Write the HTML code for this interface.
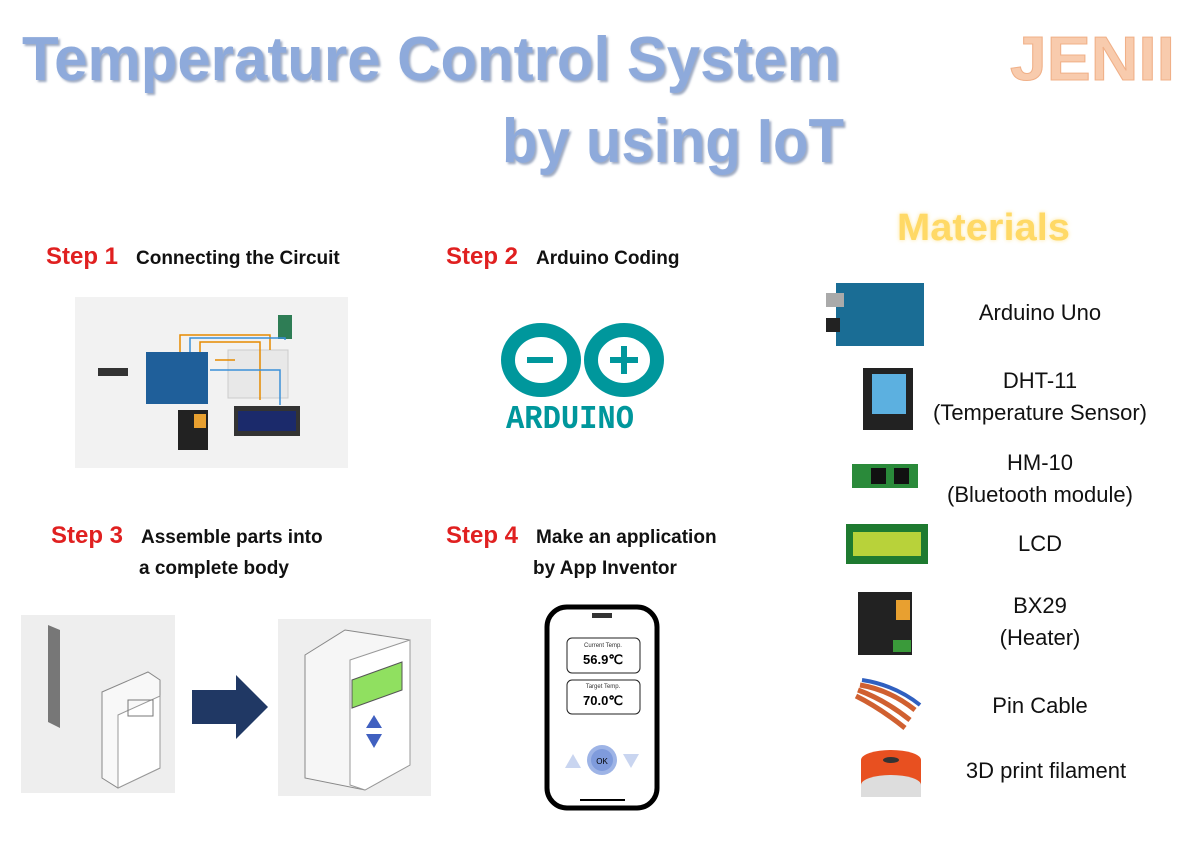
<!DOCTYPE html>
<html><head><meta charset="utf-8"><style>
html,body{margin:0;padding:0;background:#fff;}
svg{display:block;font-family:"Liberation Sans",sans-serif;}
</style></head><body>
<svg width="1200" height="847" viewBox="0 0 1200 847" xmlns="http://www.w3.org/2000/svg">
<defs>
<filter id="sh"><feDropShadow dx="2" dy="2" stdDeviation="1" flood-color="#5b6f99" flood-opacity="0.6"/></filter>
<filter id="glow"><feGaussianBlur stdDeviation="2"/></filter>
</defs>
<rect width="1200" height="847" fill="#fff"/>
<!-- Title -->
<g filter="url(#sh)" fill="#8eaadb" font-weight="bold">
<text x="22" y="80" font-size="62" textLength="818" lengthAdjust="spacingAndGlyphs">Temperature Control System</text>
<text x="502" y="162" font-size="62" textLength="342" lengthAdjust="spacingAndGlyphs">by using IoT</text>
</g>
<text x="1010" y="80" font-size="62" font-weight="bold" fill="#f8cbad" stroke="#f0b088" stroke-width="1" textLength="165" lengthAdjust="spacingAndGlyphs">JENII</text>
<!-- Materials -->
<text x="897" y="240" font-size="38" font-weight="bold" fill="#ffe699" filter="url(#glow)" textLength="173" lengthAdjust="spacingAndGlyphs">Materials</text>
<text x="897" y="240" font-size="38" font-weight="bold" fill="#ffd966" textLength="173" lengthAdjust="spacingAndGlyphs">Materials</text>

<!-- Step labels -->
<g font-weight="bold">
<text x="46" y="264" font-size="24" fill="#e02020">Step 1</text>
<text x="136" y="264" font-size="19" fill="#111">Connecting the Circuit</text>
<text x="446" y="264" font-size="24" fill="#e02020">Step 2</text>
<text x="536" y="264" font-size="19" fill="#111">Arduino Coding</text>
<text x="51" y="543" font-size="24" fill="#e02020">Step 3</text>
<text x="141" y="543" font-size="19" fill="#111">Assemble parts into</text>
<text x="139" y="574" font-size="19" fill="#111">a complete body</text>
<text x="446" y="543" font-size="24" fill="#e02020">Step 4</text>
<text x="536" y="543" font-size="19" fill="#111">Make an application</text>
<text x="533" y="574" font-size="19" fill="#111">by App Inventor</text>
</g>

<!-- Step1 circuit image -->
<rect x="75" y="297" width="273" height="171" fill="#f2f2f2"/>
<rect x="98" y="368" width="30" height="8" fill="#333"/>
<rect x="146" y="352" width="62" height="52" fill="#1f5f9a"/>
<rect x="228" y="350" width="60" height="48" fill="#e8e8e8" stroke="#ccc"/>
<rect x="278" y="315" width="14" height="24" fill="#2e7d55"/>
<rect x="234" y="406" width="66" height="30" fill="#333"/><rect x="238" y="411" width="58" height="20" fill="#1b2a6b"/>
<rect x="178" y="410" width="30" height="40" fill="#222"/><rect x="194" y="414" width="12" height="14" fill="#e8a030"/>
<path d="M180 352 V335 H270 V350 M200 352 V342 H260 V400 M215 360 H235" stroke="#e68a00" fill="none" stroke-width="1.5"/>
<path d="M190 352 V338 H285 V340 M210 370 H280 V405" stroke="#3a8fd8" fill="none" stroke-width="1.5"/>

<!-- Arduino logo -->
<g stroke="#00979c" stroke-width="14" fill="none">
<ellipse cx="541" cy="360" rx="33" ry="30"/>
<ellipse cx="624" cy="360" rx="33" ry="30"/>
</g>
<g stroke="#00979c" stroke-width="6"><line x1="527" y1="360" x2="553" y2="360"/><line x1="610" y1="360" x2="638" y2="360"/><line x1="624" y1="346" x2="624" y2="374"/></g>
<text x="506" y="428" font-size="33" font-weight="bold" fill="#00979c" textLength="128" lengthAdjust="spacingAndGlyphs" font-family="Liberation Mono,monospace">ARDUINO</text>

<!-- Step3 images -->
<rect x="21" y="615" width="154" height="178" fill="#eeeeee"/>
<polygon points="48,625 60,630 60,728 48,722" fill="#777"/>
<polygon points="102,692 148,672 160,680 160,768 118,788 102,778" fill="#f8f8f8" stroke="#888"/>
<polygon points="118,715 160,696 160,768 118,788" fill="#fff" stroke="#999"/>
<rect x="128" y="700" width="25" height="16" fill="none" stroke="#777"/>
<polygon points="192,690 236,690 236,675 268,707 236,739 236,724 192,724" fill="#203864"/>
<rect x="278" y="619" width="153" height="177" fill="#eeeeee"/>
<polygon points="305,655 345,630 410,640 410,765 365,790 305,778" fill="#f6f6f6" stroke="#888"/>
<polygon points="350,660 410,640 410,765 365,790 350,785" fill="#fff" stroke="#999"/>
<polygon points="352,680 402,662 402,690 352,708" fill="#90e060" stroke="#555"/>
<polygon points="374,715 382,728 366,728" fill="#4060c0"/><polygon points="366,734 382,734 374,748" fill="#4060c0"/>

<!-- Phone -->
<rect x="547" y="607" width="110" height="201" rx="20" fill="#fff" stroke="#000" stroke-width="5"/>
<rect x="592" y="613" width="20" height="5" fill="#333"/>
<rect x="567" y="638" width="73" height="35" rx="5" fill="#fff" stroke="#222"/>
<text x="603" y="647" font-size="6" text-anchor="middle" fill="#333">Current Temp.</text>
<text x="603" y="664" font-size="13" font-weight="bold" text-anchor="middle">56.9℃</text>
<rect x="567" y="680" width="73" height="34" rx="5" fill="#fff" stroke="#222"/>
<text x="603" y="688" font-size="6" text-anchor="middle" fill="#333">Target Temp.</text>
<text x="603" y="705" font-size="13" font-weight="bold" text-anchor="middle">70.0℃</text>
<circle cx="602" cy="760" r="15" fill="#9eb4e6"/><circle cx="602" cy="760" r="11" fill="#7f9bdc"/>
<text x="602" y="764" font-size="8" text-anchor="middle">OK</text>
<polygon points="565,768 573,754 581,768" fill="#c9d5f0"/><polygon points="623,754 639,754 631,768" fill="#c9d5f0"/>
<line x1="580" y1="800" x2="625" y2="800" stroke="#000" stroke-width="2"/>

<!-- Materials list -->
<g font-size="22" fill="#111" text-anchor="middle">
<text x="1040" y="320">Arduino Uno</text>
<text x="1040" y="388">DHT-11</text>
<text x="1040" y="420">(Temperature Sensor)</text>
<text x="1040" y="470">HM-10</text>
<text x="1040" y="502">(Bluetooth module)</text>
<text x="1040" y="551">LCD</text>
<text x="1040" y="613">BX29</text>
<text x="1040" y="645">(Heater)</text>
<text x="1040" y="713">Pin Cable</text>
<text x="1046" y="778">3D print filament</text>
</g>
<rect x="836" y="283" width="88" height="63" fill="#1a6d95"/><rect x="826" y="293" width="18" height="14" fill="#aaa"/><rect x="826" y="318" width="14" height="14" fill="#222"/>
<rect x="863" y="368" width="50" height="62" fill="#222"/><rect x="872" y="374" width="34" height="40" fill="#5cb0e0"/>
<rect x="852" y="464" width="66" height="24" fill="#2a8a3a"/><rect x="871" y="468" width="15" height="16" fill="#111"/><rect x="894" y="468" width="15" height="16" fill="#111"/>
<rect x="846" y="524" width="82" height="40" fill="#1e7a30"/><rect x="853" y="532" width="68" height="24" fill="#b8d23a"/>
<rect x="858" y="592" width="54" height="63" fill="#222"/><rect x="896" y="600" width="14" height="20" fill="#e8a030"/><rect x="893" y="640" width="18" height="12" fill="#3a9a3a"/>
<path d="M860 685 Q890 690 915 710 M858 690 Q885 700 910 720 M856 696 Q880 708 905 728" stroke="#d06030" stroke-width="5" fill="none"/>
<path d="M862 680 Q895 685 920 705" stroke="#3060c0" stroke-width="4" fill="none"/>
<ellipse cx="891" cy="760" rx="30" ry="10" fill="#e85020"/><rect x="861" y="760" width="60" height="25" fill="#e85020"/><ellipse cx="891" cy="785" rx="30" ry="10" fill="#ddd"/><rect x="861" y="785" width="60" height="12" fill="#ddd"/>
<ellipse cx="891" cy="760" rx="8" ry="3" fill="#333"/>
</svg>
</body></html>
